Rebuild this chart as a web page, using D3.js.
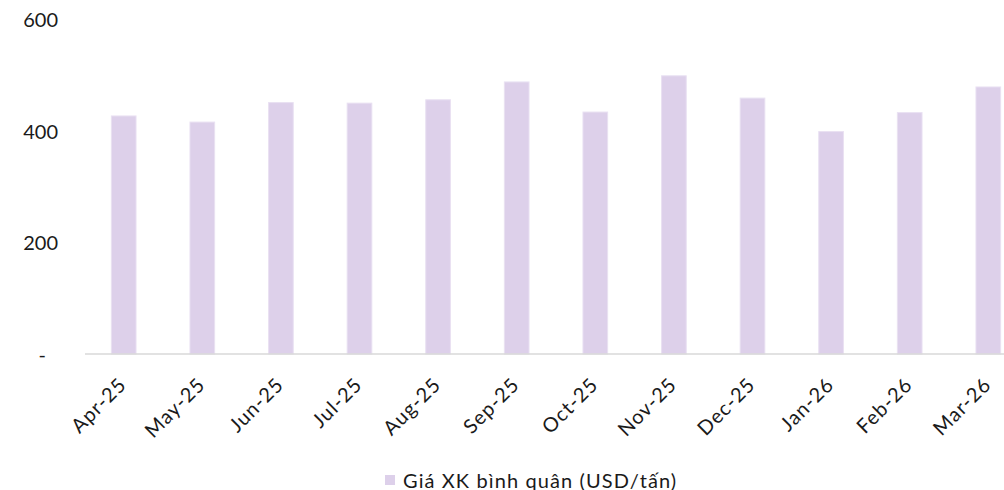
<!DOCTYPE html>
<html>
<head>
<meta charset="utf-8">
<script src="https://cdn.jsdelivr.net/npm/d3@7"></script>
<style>
  html, body { margin: 0; padding: 0; background: #fff; }
  svg { display: block; }
  text { font-family: "Lato", "Noto Sans", sans-serif; fill: #1a1a1a; }
</style>
</head>
<body>
<svg id="chart" width="1004" height="490"></svg>
<script>
const categories = ["Apr-25","May-25","Jun-25","Jul-25","Aug-25","Sep-25","Oct-25","Nov-25","Dec-25","Jan-26","Feb-26","Mar-26"];
const values = [427, 416, 451, 450, 456, 488, 434, 499, 459, 399, 433, 479];
const yTicks = [0, 200, 400, 600];
const seriesName = "Giá XK bình quân (USD/tấn)";

const svg = d3.select("#chart");
const baseY = 354, topY = 19.5;

const x = d3.scaleBand().domain(categories).range([84.4, 1027.6]).paddingInner(0.686).paddingOuter(0.343);
const y = d3.scaleLinear().domain([0, 600]).range([baseY, topY]);

// bars
svg.append("g").selectAll("rect").data(categories).join("rect")
  .attr("x", d => x(d))
  .attr("y", (d, i) => y(values[i]))
  .attr("width", x.bandwidth())
  .attr("height", (d, i) => y(0) - y(values[i]))
  .attr("fill", "#ddd0ea")
  .attr("stroke", "#e9e1f2")
  .attr("stroke-width", 1);

// x axis line
svg.append("line")
  .attr("x1", 85).attr("x2", 1004)
  .attr("y1", baseY).attr("y2", baseY)
  .attr("stroke", "#d9d9d9").attr("stroke-width", 1.5);

// y labels
const yAxis = d3.axisLeft(y).tickValues(yTicks).tickSize(0).tickPadding(0)
  .tickFormat(d => d === 0 ? "-" : d3.format("d")(d));
const gy = svg.append("g").attr("transform", "translate(58,0)").call(yAxis);
gy.select(".domain").remove();
gy.selectAll("text")
  .style("font-family", '"Lato", "Noto Sans", sans-serif')
  .style("font-size", "20px")
  .attr("fill", "#1a1a1a")
  .attr("dy", "0.35em")
  .attr("x", d => d === 0 ? -12 : 0);

// x labels
const xAxis = d3.axisBottom(x).tickSize(0).tickPadding(0);
const gx = svg.append("g").attr("transform", `translate(0,${baseY})`).call(xAxis);
gx.select(".domain").remove();
gx.selectAll("text")
  .style("font-family", '"Lato", "Noto Sans", sans-serif')
  .style("font-size", "20px")
  .style("letter-spacing", "1px")
  .attr("fill", "#1a1a1a")
  .attr("text-anchor", "end")
  .attr("y", 0).attr("dy", 0)
  .attr("transform", "translate(4,32) rotate(-45)");

// legend
const lg = svg.append("g");
lg.append("rect").attr("x", 385).attr("y", 475).attr("width", 10).attr("height", 10).attr("fill", "#ddd0ea");
lg.append("text").attr("x", 403).attr("y", 488)
  .style("font-size", "20px").style("letter-spacing", "1.1px").text(seriesName);
</script>
</body>
</html>
